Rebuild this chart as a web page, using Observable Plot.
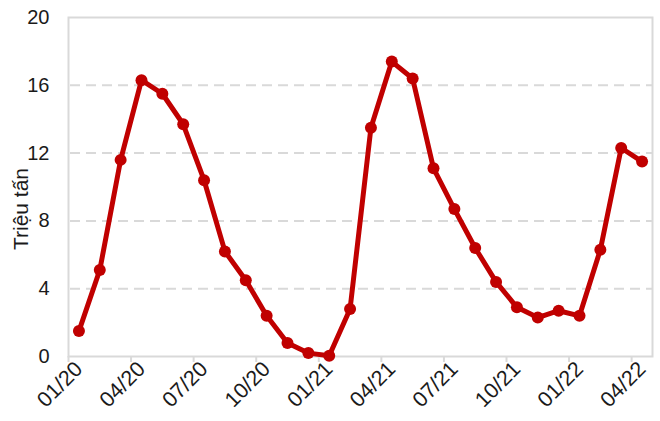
<!DOCTYPE html>
<html>
<head>
<meta charset="utf-8">
<script src="https://cdn.jsdelivr.net/npm/d3@7"></script>
<script src="https://cdn.jsdelivr.net/npm/@observablehq/plot@0.6"></script>
<style>
  html, body { margin: 0; padding: 0; background: #fff; }
  #chart { position: relative; width: 660px; height: 421px; }
  svg { font-family: "Liberation Sans", Arial, sans-serif; }
</style>
</head>
<body>
<div id="chart"></div>
<script>
const months = ["01/20","02/20","03/20","04/20","05/20","06/20","07/20","08/20","09/20","10/20","11/20","12/20",
                "01/21","02/21","03/21","04/21","05/21","06/21","07/21","08/21","09/21","10/21","11/21","12/21",
                "01/22","02/22","03/22","04/22"];
const values = [1.5, 5.1, 11.6, 16.3, 15.5, 13.7, 10.4, 6.2, 4.5, 2.4, 0.8, 0.2,
                0.05, 2.8, 13.5, 17.4, 16.4, 11.1, 8.7, 6.4, 4.4, 2.9, 2.3, 2.7,
                2.4, 6.3, 12.3, 11.5];
const yTicks = [0, 4, 8, 12, 16, 20];
const labelMonths = ["01/20","04/20","07/20","10/20","01/21","04/21","07/21","10/21","01/22","04/22"];
const yLabel = "Triệu tấn";

const data = months.map((m, i) => ({i, month: m, value: values[i]}));
const labelIdx = labelMonths.map(m => months.indexOf(m));
const boundaryIdx = labelIdx.map(i => i - 0.5);

const W = 660, H = 421;
const mL = 68, mR = 8, mT = 17, mB = 65;

const plot = Plot.plot({
  width: W, height: H,
  marginLeft: mL, marginRight: mR, marginTop: mT, marginBottom: mB,
  style: {fontFamily: "Liberation Sans, Arial, sans-serif", fontSize: "20px", color: "#1a1a1a", background: "#fff"},
  x: {type: "linear", domain: [-0.5, months.length - 0.5]},
  y: {domain: [0, 20]},
  marks: [
    Plot.ruleY(yTicks.filter(d => d > 0 && d < 20), {stroke: "#d9d9d9", strokeWidth: 2, strokeDasharray: "10,6", strokeDashoffset: -2}),
    Plot.frame({stroke: "#d9d9d9", strokeWidth: 2}),
    Plot.axisY({ticks: yTicks, tickSize: 0, tickPadding: 19, fontSize: 20, label: null}),
    Plot.axisX({ticks: boundaryIdx, tickSize: 6, tickFormat: () => "", label: null, stroke: "#d9d9d9", strokeWidth: 2}),
    Plot.axisX({ticks: labelIdx, tickSize: 0, tickPadding: 9, tickRotate: -45, fontSize: 21.5, label: null, dx: 0,
                tickFormat: i => months[i]}),
    Plot.line(data, {x: "i", y: "value", stroke: "#c00000", strokeWidth: 5, strokeLinejoin: "round"}),
    Plot.dot(data, {x: "i", y: "value", fill: "#c00000", r: 6})
  ]
});

document.getElementById("chart").appendChild(plot);

const svg = d3.select(plot);
svg.append("text")
  .attr("transform", "translate(22,209) rotate(-90)")
  .attr("text-anchor", "middle")
  .attr("dominant-baseline", "middle")
  .attr("font-size", 21)
  .attr("fill", "#1a1a1a")
  .text(yLabel);
</script>
</body>
</html>
